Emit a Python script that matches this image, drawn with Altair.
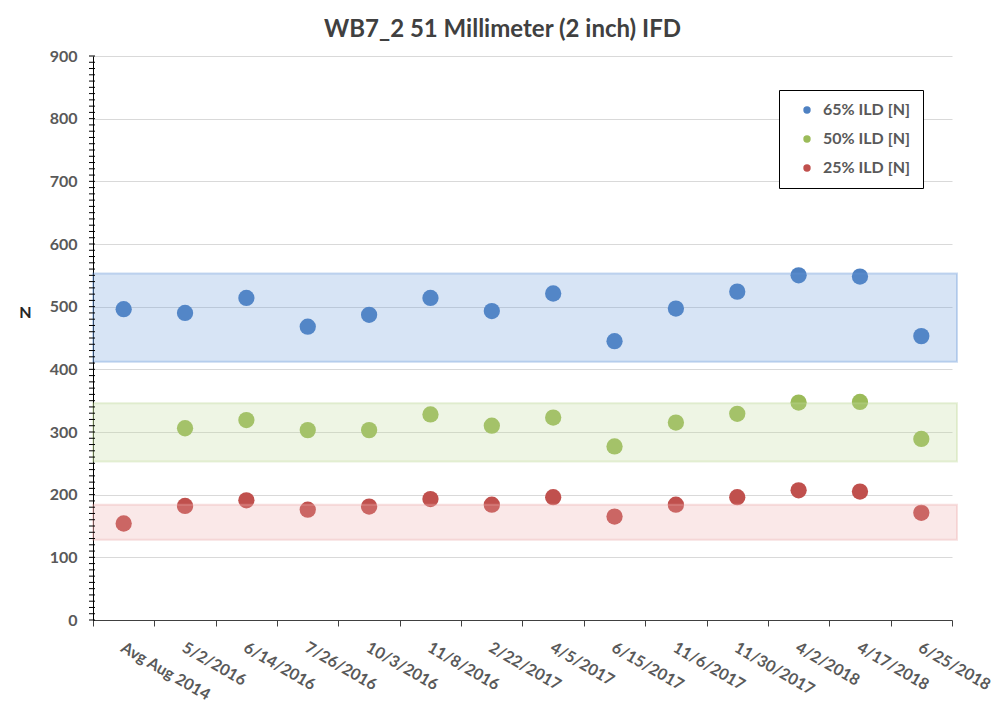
import altair as alt
import pandas as pd

# ---------------- data ----------------
categories = ["Avg Aug 2014", "5/2/2016", "6/14/2016", "7/26/2016", "10/3/2016",
              "11/8/2016", "2/22/2017", "4/5/2017", "6/15/2017", "11/6/2017",
              "11/30/2017", "4/2/2018", "4/17/2018", "6/25/2018"]

series_names = ["65% ILD [N]", "50% ILD [N]", "25% ILD [N]"]

ild65 = [496, 490, 514, 468, 487, 514, 493, 521, 445, 497, 524, 550, 548, 453]
ild50 = [None, 306, 319, 303, 303, 328, 310, 323, 277, 315, 329, 347, 348, 289]
ild25 = [154, 182, 191, 176, 181, 193, 184, 196, 165, 184, 196, 207, 205, 171]

band_low = [412, 253, 128]
band_high = [553, 346, 184]

y_ticks = [0, 100, 200, 300, 400, 500, 600, 700, 800, 900]
y_minor = list(range(0, 901, 10))

point_colors = ["#4e81c2", "#9bbb59", "#c0504d"]
band_colors = ["#6496d7", "#bed796", "#eaa8a8"]

# ---------------- tables ----------------
rows = []
for name, vals in zip(series_names, [ild65, ild50, ild25]):
    for c, v in zip(categories, vals):
        if v is not None:
            rows.append({"date": c, "series": name, "value": v})
df = pd.DataFrame(rows)

bands = pd.DataFrame({"series": series_names, "low": band_low, "high": band_high})
minor = pd.DataFrame({"v": y_minor})

W, H = 859, 564
FONT = "Lato"

yscale = alt.Scale(domain=[0, 900], nice=False, zero=True)
yaxis = alt.Axis(values=y_ticks, grid=True, gridColor="#d9d9d9",
                 ticks=False, domainColor="#000000", labelFont=FONT,
                 labelFontSize=16, labelFontWeight="bold",
                 labelColor="#595959", labelPadding=16,
                 title="N", titleAngle=0, titleX=-68, titleY=256,
                 titleAlign="center", titleBaseline="middle",
                 titleFont=FONT, titleFontSize=16, titleFontWeight="bold",
                 titleColor="#262626")

points = alt.Chart(df).mark_circle(size=265, opacity=1).encode(
    x=alt.X("date:N", sort=categories,
            scale=alt.Scale(paddingInner=0, paddingOuter=0),
            axis=alt.Axis(title=None, tickBand="extent", labelOffset=2,
                          labelAngle=30, labelAlign="left", labelBaseline="top",
                          labelPadding=13, tickSize=6, tickColor="#404040",
                          domainColor="#404040", labelFont=FONT, labelFontSize=16,
                          labelFontWeight="bold", labelColor="#595959",
                          labelOverlap=False, labelBound=False, labelFlush=False,
                          grid=False)),
    y=alt.Y("value:Q", scale=yscale, axis=yaxis),
    color=alt.Color("series:N", sort=series_names,
                    scale=alt.Scale(domain=series_names, range=point_colors),
                    legend=alt.Legend(title=None, orient="none", legendX=686,
                                      legendY=34, strokeColor="#000000",
                                      fillColor="#ffffff", padding=12,
                                      symbolType="circle", symbolSize=55,
                                      symbolOffset=8, labelOffset=8,
                                      rowPadding=13, labelFont=FONT,
                                      labelFontSize=16, labelFontWeight="bold",
                                      labelColor="#595959")),
)

band_layer = alt.Chart(bands).mark_rect(fillOpacity=0.26, strokeOpacity=0.35,
                                        strokeWidth=2).encode(
    x=alt.value(0), x2=alt.value(W + 5),
    y=alt.Y("low:Q", scale=yscale, axis=yaxis), y2="high:Q",
    fill=alt.Fill("series:N", scale=alt.Scale(domain=series_names, range=band_colors),
                  legend=None),
    stroke=alt.Stroke("series:N", scale=alt.Scale(domain=series_names, range=band_colors),
                      legend=None),
)

minor_ticks = alt.Chart(minor).mark_rule(color="#000000", strokeWidth=1).encode(
    y=alt.Y("v:Q", scale=yscale, axis=yaxis),
    x=alt.value(-4), x2=alt.value(2),
)

chart = alt.layer(points, band_layer, minor_ticks).resolve_scale(
    fill="independent", stroke="independent"
).properties(
    width=W, height=H,
    background="#ffffff",
    title=alt.TitleParams("WB7_2 51 Millimeter (2 inch) IFD", font=FONT, fontSize=24,
                          fontWeight="bold", color="#404040", anchor="middle",
                          frame="group", dx=-20, offset=6),
    autosize=alt.AutoSizeParams(type="none"),
    padding={"left": 85, "top": 48, "right": 42, "bottom": 88},
).configure_view(stroke="transparent", strokeWidth=0)

chart.save("out.html", embed_options={"renderer": "svg", "actions": False})
